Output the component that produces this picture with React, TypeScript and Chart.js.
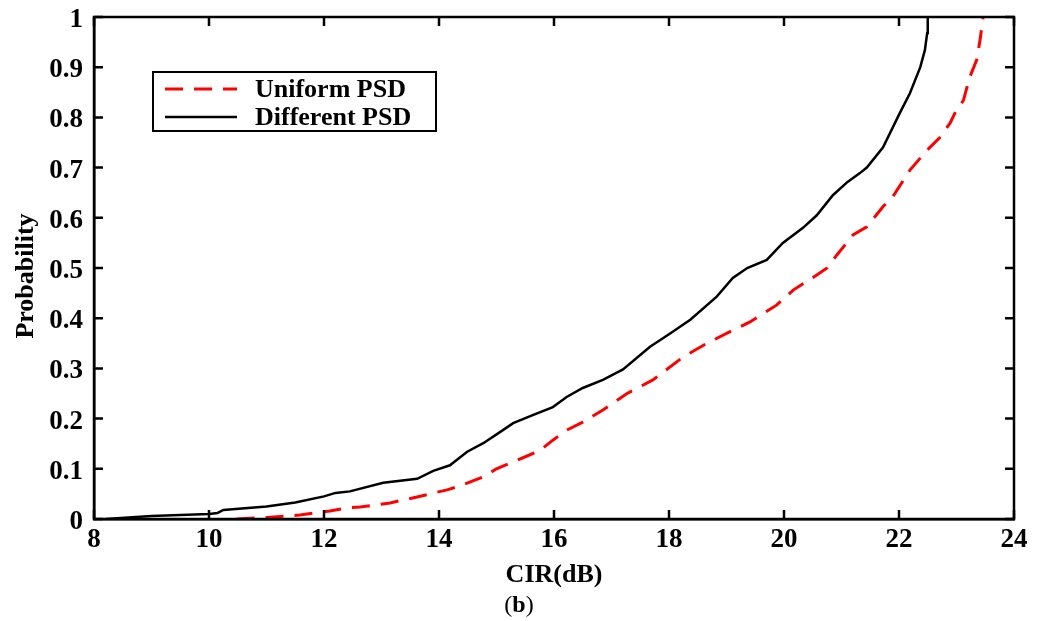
import React, { useEffect, useRef } from "react";
import { Chart, registerables } from "chart.js";

Chart.register(...registerables);

const seriesLabels = ["Uniform PSD", "Different PSD"];

const diffX = [8.2, 9.0, 10.0, 10.15, 10.25, 11.0, 11.5, 12.0, 12.2, 12.45, 13.03, 13.62, 13.9, 14.19, 14.49, 14.77, 15.06, 15.29, 15.63, 15.98, 16.22, 16.5, 16.85, 17.2, 17.67, 18.0, 18.37, 18.83, 19.11, 19.36, 19.7, 19.98, 20.33, 20.57, 20.85, 21.1, 21.32, 21.44, 21.72, 22.02, 22.19, 22.37, 22.45, 22.49, 22.5];
const diffY = [0, 0.006, 0.01, 0.012, 0.018, 0.025, 0.033, 0.045, 0.052, 0.055, 0.072, 0.08, 0.096, 0.107, 0.134, 0.151, 0.173, 0.191, 0.207, 0.223, 0.243, 0.261, 0.277, 0.298, 0.343, 0.368, 0.397, 0.443, 0.48, 0.5, 0.516, 0.55, 0.58, 0.605, 0.645, 0.671, 0.689, 0.7, 0.74, 0.81, 0.848, 0.9, 0.934, 0.968, 1.0];

const unifX = [10.48, 11.0, 11.58, 12.1, 12.4, 12.63, 13.15, 13.62, 14.14, 14.37, 14.77, 15.0, 15.46, 15.76, 15.98, 16.22, 16.5, 16.85, 17.27, 17.72, 18.25, 18.66, 19.11, 19.4, 19.87, 20.16, 20.57, 20.75, 20.92, 21.2, 21.44, 21.72, 21.88, 22.19, 22.49, 22.71, 22.89, 23.0, 23.12, 23.23, 23.35, 23.41, 23.46, 23.47];
const unifY = [0, 0.003, 0.008, 0.016, 0.022, 0.024, 0.032, 0.044, 0.058, 0.066, 0.084, 0.1, 0.122, 0.137, 0.157, 0.177, 0.193, 0.217, 0.25, 0.277, 0.323, 0.35, 0.376, 0.392, 0.426, 0.456, 0.486, 0.5, 0.526, 0.566, 0.582, 0.622, 0.64, 0.695, 0.735, 0.76, 0.789, 0.815, 0.834, 0.88, 0.914, 0.954, 0.998, 1.0];

const xTickValues = [8, 10, 12, 14, 16, 18, 20, 22, 24];
const yTickValues = [0, 0.1, 0.2, 0.3, 0.4, 0.5, 0.6, 0.7, 0.8, 0.9, 1];

const xTitle = "CIR(dB)";
const yTitle = "Probability";

const FONT = "'Liberation Serif', 'Times New Roman', serif";

const decorPlugin = {
  id: "decor",
  afterDraw(chart: any) {
    const ctx = chart.ctx;
    const { left, right, top, bottom } = chart.chartArea;
    const xs = chart.scales.x;
    const ys = chart.scales.y;
    ctx.save();
    ctx.strokeStyle = "#000";
    ctx.lineWidth = 2.5;
    ctx.strokeRect(left, top, right - left, bottom - top);
    const tl = 9;
    ctx.beginPath();
    xTickValues.forEach((v) => {
      const px = xs.getPixelForValue(v);
      ctx.moveTo(px, bottom);
      ctx.lineTo(px, bottom - tl);
      ctx.moveTo(px, top);
      ctx.lineTo(px, top + tl);
    });
    yTickValues.forEach((v) => {
      const py = ys.getPixelForValue(v);
      ctx.moveTo(left, py);
      ctx.lineTo(left + tl, py);
      ctx.moveTo(right, py);
      ctx.lineTo(right - tl, py);
    });
    ctx.stroke();

    ctx.fillStyle = "#000";
    ctx.font = `bold 26px ${FONT}`;
    ctx.textAlign = "center";
    ctx.textBaseline = "middle";
    ctx.fillText(xTitle, (left + right) / 2, 575);
    ctx.save();
    ctx.translate(26, 276);
    ctx.rotate(-Math.PI / 2);
    ctx.fillText(yTitle, 0, 0);
    ctx.restore();

    // (b)
    ctx.textAlign = "left";
    const sz = 24;
    ctx.font = `${sz}px ${FONT}`;
    const wOpen = ctx.measureText("(").width;
    ctx.font = `bold ${sz}px ${FONT}`;
    const wB = ctx.measureText("b").width;
    const total = wOpen * 2 + wB;
    let sx = 519 - total / 2;
    ctx.font = `${sz}px ${FONT}`;
    ctx.fillText("(", sx, 606);
    sx += wOpen;
    ctx.font = `bold ${sz}px ${FONT}`;
    ctx.fillText("b", sx, 606);
    sx += wB;
    ctx.font = `${sz}px ${FONT}`;
    ctx.fillText(")", sx, 606);

    // legend
    const bx = 153, by = 72, bw = 283, bh = 59;
    ctx.fillStyle = "#fff";
    ctx.fillRect(bx, by, bw, bh);
    ctx.lineWidth = 2;
    ctx.strokeStyle = "#000";
    ctx.strokeRect(bx, by, bw, bh);
    const rows = [89, 117];
    chart.data.datasets.forEach((ds: any, i: number) => {
      const y = rows[i];
      ctx.beginPath();
      ctx.strokeStyle = ds.borderColor;
      ctx.lineWidth = ds.borderWidth;
      ctx.setLineDash(ds.borderDash || []);
      ctx.moveTo(165, y);
      ctx.lineTo(237, y);
      ctx.stroke();
      ctx.setLineDash([]);
      ctx.fillStyle = "#000";
      ctx.font = `bold 26px ${FONT}`;
      ctx.textAlign = "left";
      ctx.textBaseline = "middle";
      ctx.fillText(ds.label, 255, y + 1);
    });
    ctx.restore();
  },
};

export default function App() {
  const ref = useRef<HTMLCanvasElement>(null);
  useEffect(() => {
    if (!ref.current) return;
    const chart = new Chart(ref.current, {
      type: "line",
      data: {
        datasets: [
          {
            label: seriesLabels[0],
            data: unifX.map((x, i) => ({ x, y: unifY[i] })),
            borderColor: "#ff0000",
            borderWidth: 3,
            borderDash: [18, 11],
            pointRadius: 0,
            fill: false,
            tension: 0,
          },
          {
            label: seriesLabels[1],
            data: diffX.map((x, i) => ({ x, y: diffY[i] })),
            borderColor: "#000000",
            borderWidth: 2.5,
            pointRadius: 0,
            fill: false,
            tension: 0,
          },
        ],
      },
      options: {
        animation: false,
        responsive: false,
        devicePixelRatio: 1,
        layout: { padding: { left: 0, top: 17, right: 24, bottom: 0 } },
        plugins: { legend: { display: false }, tooltip: { enabled: false } },
        scales: {
          x: {
            type: "linear",
            min: 8,
            max: 24,
            afterBuildTicks: (s: any) => {
              s.ticks = xTickValues.map((v) => ({ value: v }));
            },
            afterFit: (s: any) => {
              s.height = 102;
              s.paddingLeft = 0;
              s.paddingRight = 0;
            },
            grid: { display: false, drawTicks: false },
            border: { display: true, color: "#000", width: 2.5 },
            ticks: {
              color: "#000",
              padding: 5,
              maxRotation: 0,
              font: { family: FONT, size: 27, weight: "bold" },
              callback: (v: any) => String(v),
            },
          },
          y: {
            type: "linear",
            min: 0,
            max: 1,
            afterBuildTicks: (s: any) => {
              s.ticks = yTickValues.map((v) => ({ value: v }));
            },
            afterFit: (s: any) => {
              s.width = 94;
              s.paddingTop = 0;
              s.paddingBottom = 0;
            },
            grid: { display: false, drawTicks: false },
            border: { display: true, color: "#000", width: 2.5 },
            ticks: {
              color: "#000",
              padding: 11,
              labelOffset: 3,
              font: { family: FONT, size: 27, weight: "bold" },
              callback: (v: any) => String(v),
            },
          },
        },
      },
      plugins: [decorPlugin],
    });
    return () => chart.destroy();
  }, []);
  return (
    <div style={{ position: "fixed", left: 0, top: 0, width: 1038, height: 621, background: "#fff" }}>
      <canvas ref={ref} width={1038} height={621} style={{ width: 1038, height: 621 }} />
    </div>
  );
}
